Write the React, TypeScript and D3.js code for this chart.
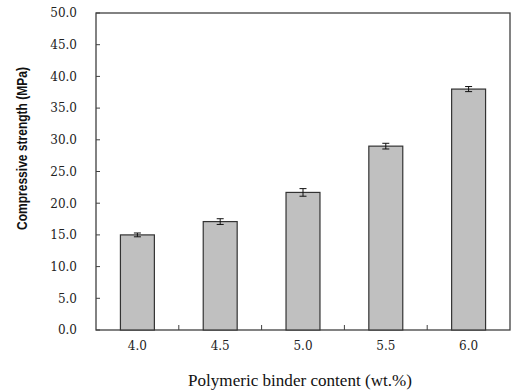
import React from "react";
import * as d3 from "d3";

const categories = ["4.0", "4.5", "5.0", "5.5", "6.0"];
const strength = [15.0, 17.1, 21.7, 29.0, 38.0];
const errors = [0.3, 0.45, 0.6, 0.45, 0.4];
const yTicks = [0, 5, 10, 15, 20, 25, 30, 35, 40, 45, 50];

const W = 515, H = 391;
const L = 96, R = 510, T = 13, B = 330;

export default function App() {
  const x = d3.scaleBand<string>().domain(categories).range([L, R]).paddingInner(0).paddingOuter(0);
  const y = d3.scaleLinear().domain([0, 50]).range([B, T]);
  const bw = x.bandwidth() * 0.41;
  const serif = "'DejaVu Serif', serif";
  return (
    <svg width={W} height={H} style={{ position: "absolute", left: 0, top: 0 }}>
      <rect x={L} y={T} width={R - L} height={B - T} fill="white" stroke="#404040" strokeWidth={1.3} />
      {yTicks.map((t) => (
        <g key={t}>
          <line x1={L} x2={L + 4} y1={y(t)} y2={y(t)} stroke="#404040" strokeWidth={1} />
          <text x={77} y={y(t)} dy="0.36em" textAnchor="end" fontFamily={serif} fontSize={12} fill="#222">
            {t.toFixed(1)}
          </text>
        </g>
      ))}
      {categories.slice(1).map((c) => (
        <line key={c} x1={x(c)!} x2={x(c)!} y1={B} y2={B - 5} stroke="#404040" strokeWidth={1} />
      ))}
      {categories.map((c, i) => {
        const cx = x(c)! + x.bandwidth() / 2;
        return (
          <g key={c}>
            <rect x={cx - bw / 2} y={y(strength[i])} width={bw} height={B - y(strength[i])} fill="#c0c0c0" stroke="#333" strokeWidth={1.2} />
            <line x1={cx} x2={cx} y1={y(strength[i] + errors[i])} y2={y(strength[i] - errors[i])} stroke="#111" strokeWidth={1} />
            <line x1={cx - 3.5} x2={cx + 3.5} y1={y(strength[i] + errors[i])} y2={y(strength[i] + errors[i])} stroke="#111" strokeWidth={1} />
            <line x1={cx - 3.5} x2={cx + 3.5} y1={y(strength[i] - errors[i])} y2={y(strength[i] - errors[i])} stroke="#111" strokeWidth={1} />
            <text x={cx} y={350} textAnchor="middle" fontFamily={serif} fontSize={12} fill="#222">{c}</text>
          </g>
        );
      })}
      <text x={300} y={386} textAnchor="middle" fontFamily="'Liberation Serif', serif" fontSize={17} fill="#111"
        textLength={224} lengthAdjust="spacingAndGlyphs">
        Polymeric binder content (wt.%)
      </text>
      <text transform="translate(27,148.5) rotate(-90)" textAnchor="middle" fontFamily="'Liberation Sans', Arial, sans-serif" fontWeight="bold" fontSize={15} fill="#111"
        textLength={163} lengthAdjust="spacingAndGlyphs">
        Compressive strength (MPa)
      </text>
    </svg>
  );
}
